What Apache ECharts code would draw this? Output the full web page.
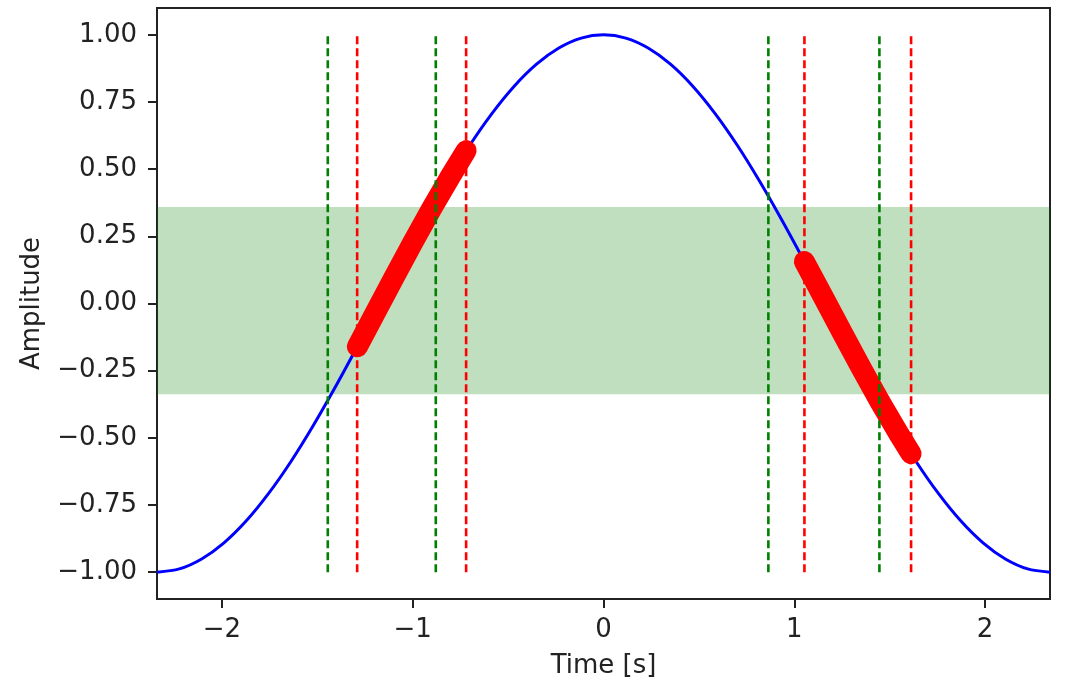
<!DOCTYPE html>
<html>
<head>
  <meta charset="utf-8">
  <script src="https://cdn.jsdelivr.net/npm/echarts@6/dist/echarts.min.js"></script>
  <style>
    body { margin: 0; background: #fff; }
    #chart { width: 1066px; height: 680px; }
  </style>
</head>
<body>
  <div id="chart"></div>
  <script>
    // blue curve
    var timeValues = [-2.34, -2.223, -2.106, -1.989, -1.872, -1.755, -1.638, -1.521, -1.404, -1.287,
      -1.17, -1.053, -0.936, -0.819, -0.702, -0.585, -0.468, -0.351, -0.234, -0.117, 0,
      0.117, 0.234, 0.351, 0.468, 0.585, 0.702, 0.819, 0.936, 1.053, 1.17,
      1.287, 1.404, 1.521, 1.638, 1.755, 1.872, 1.989, 2.106, 2.223, 2.34];
    var amplitudeValues = [-1, -0.988, -0.951, -0.891, -0.809, -0.707, -0.588, -0.454, -0.309, -0.156,
      0, 0.156, 0.309, 0.454, 0.588, 0.707, 0.809, 0.891, 0.951, 0.988, 1,
      0.988, 0.951, 0.891, 0.809, 0.707, 0.588, 0.454, 0.309, 0.156, 0,
      -0.156, -0.309, -0.454, -0.588, -0.707, -0.809, -0.891, -0.951, -0.988, -1];

    // thick red pieces
    var riseTimes = [-1.29, -1.2, -1.1, -1.0, -0.9, -0.8, -0.72];
    var riseValues = [-0.161, -0.040, 0.094, 0.226, 0.354, 0.476, 0.569];
    var fallTimes = [1.053, 1.15, 1.25, 1.35, 1.45, 1.55, 1.612];
    var fallValues = [0.156, 0.027, -0.107, -0.239, -0.367, -0.488, -0.559];

    // dashed verticals and band
    var greenTimes = [-1.445, -0.879, 0.864, 1.446];
    var redTimes = [-1.291, -0.720, 1.053, 1.612];
    var vLineSpan = [-1, 1];
    var band = [-0.338, 0.359];

    var xTicks = [-2, -1, 0, 1, 2];
    var yTicks = [-1, -0.75, -0.5, -0.25, 0, 0.25, 0.5, 0.75, 1];

    function zip(a, b) { return a.map(function (v, i) { return [v, b[i]]; }); }
    function minus(s) { return s.replace('-', '\u2212'); }

    var font = 'DejaVu Sans';
    var fs = 26;
    var ink = '#222';
    var series = [
      {
        type: 'line', data: [], z: 1, silent: true,
        markArea: {
          silent: true,
          itemStyle: { color: 'rgba(0,128,0,0.25)' },
          data: [[{ yAxis: band[0] }, { yAxis: band[1] }]]
        }
      },
      {
        type: 'line', data: zip(timeValues, amplitudeValues), smooth: 0.3,
        showSymbol: false, z: 2, lineStyle: { color: '#0000ff', width: 3 }
      },
      {
        type: 'line', data: zip(riseTimes, riseValues), showSymbol: false, z: 3,
        lineStyle: { color: '#ff0000', width: 21, cap: 'round', join: 'round' }
      },
      {
        type: 'line', data: zip(fallTimes, fallValues), showSymbol: false, z: 3,
        lineStyle: { color: '#ff0000', width: 21, cap: 'round', join: 'round' }
      }
    ];
    greenTimes.forEach(function (t) {
      series.push({
        type: 'line', data: vLineSpan.map(function (v) { return [t, v]; }), showSymbol: false, z: 4,
        lineStyle: { color: '#008000', width: 2.6, type: [8, 4] }
      });
    });
    redTimes.forEach(function (t) {
      series.push({
        type: 'line', data: vLineSpan.map(function (v) { return [t, v]; }), showSymbol: false, z: 4,
        lineStyle: { color: '#ff0000', width: 2.6, type: [8, 4] }
      });
    });

    var chart = echarts.init(document.getElementById('chart'));
    chart.setOption({
      animation: false,
      backgroundColor: '#fff',
      grid: {
        left: 157, right: 16, top: 8, bottom: 81, outerBoundsMode: 'none',
        show: true, borderColor: ink, borderWidth: 2
      },
      xAxis: {
        type: 'value', min: -2.34, max: 2.34,
        name: 'Time [s]', nameLocation: 'middle', nameGap: 54,
        nameTextStyle: { fontFamily: font, fontSize: fs, color: ink },
        axisLine: { onZero: false, lineStyle: { color: ink, width: 2 } },
        axisTick: { customValues: xTicks, length: 9, lineStyle: { color: ink, width: 2 } },
        axisLabel: {
          customValues: xTicks, margin: 18, fontFamily: font, fontSize: fs, color: ink,
          formatter: function (v) { return minus(String(v)); }
        },
        splitLine: { show: false }
      },
      yAxis: {
        type: 'value', min: -1.1, max: 1.1,
        name: 'Amplitude', nameLocation: 'middle', nameGap: 112, nameRotate: 90,
        nameTextStyle: { fontFamily: font, fontSize: fs, color: ink },
        axisLine: { onZero: false, lineStyle: { color: ink, width: 2 } },
        axisTick: { customValues: yTicks, length: 9, lineStyle: { color: ink, width: 2 } },
        axisLabel: {
          customValues: yTicks, margin: 20, fontFamily: font, fontSize: fs, color: ink,
          formatter: function (v) { return minus(v.toFixed(2)); }
        },
        splitLine: { show: false }
      },
      series: series
    });
  </script>
</body>
</html>
